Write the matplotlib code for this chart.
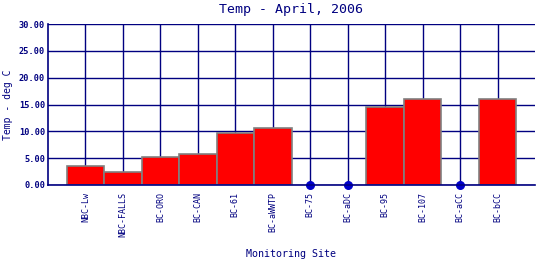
import matplotlib
matplotlib.use('Agg')
import matplotlib.pyplot as plt
import numpy as np

# April 2006 temperatures per monitoring site (None = no reading)
sites = ['NBC-Lw', 'NBC-FALLS', 'BC-ORO', 'BC-CAN', 'BC-61', 'BC-aWWTP',
         'BC-75', 'BC-aDC', 'BC-95', 'BC-107', 'BC-aCC', 'BC-bCC']
temps = [3.5, 2.5, 5.15, 5.7, 9.6, 10.6, None, None, 14.6, 16.0, None, 16.0]
yticks = [0, 5, 10, 15, 20, 25, 30]

navy = '#000080'
plt.rcParams['font.family'] = 'DejaVu Sans Mono'

fig = plt.figure(figsize=(5.4, 2.6), dpi=100)
ax = fig.add_axes([48/540, 1-185/260, 487/540, 161/260])

x = np.arange(1, len(sites) + 1)
vals = np.array([t if t is not None else 0 for t in temps])
has = np.array([t is not None for t in temps])

ax.bar(x[has], vals[has], width=1.0, color='red', edgecolor='#808080',
       linewidth=1.2, zorder=3)
ax.scatter(x[~has], vals[~has], s=30, color='#0000cc', zorder=4, clip_on=False)

ax.set_xlim(0, len(sites) + 1)
ax.set_ylim(0, 30)
ax.set_xticks(x)
ax.set_xticklabels(sites, rotation=90, fontsize=6, color=navy)
ax.set_yticks(yticks)
ax.set_yticklabels(['%.2f' % v for v in yticks], fontsize=6.2, color=navy,
                   fontweight='bold')
ax.tick_params(axis='y', length=0, pad=2)
ax.tick_params(axis='x', length=0, pad=5)
ax.grid(True, color=navy, linewidth=1)
ax.set_axisbelow(True)
for s in ['top', 'right']:
    ax.spines[s].set_visible(False)
for s in ['left', 'bottom']:
    ax.spines[s].set_color(navy)
    ax.spines[s].set_linewidth(1.2)
    ax.spines[s].set_zorder(5)

fig.text(291/540, 1-10/260, 'Temp - April, 2006', color=navy, fontsize=9.5,
         ha='center', va='center')
fig.text(8/540, 1-105/260, 'Temp - deg C', color=navy, fontsize=7,
         rotation=90, ha='center', va='center')
fig.text(291/540, 1-254/260, 'Monitoring Site', color=navy, fontsize=7.2,
         ha='center', va='center')

fig.savefig('out.png', dpi=100)
